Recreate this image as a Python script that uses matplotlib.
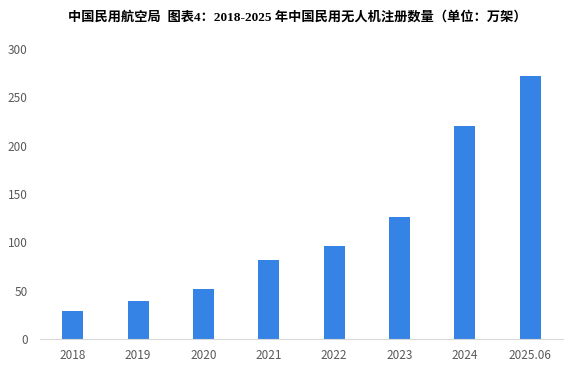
import matplotlib
matplotlib.use("Agg")
import matplotlib.pyplot as plt

plt.rcParams['font.family'] = ['Noto Sans CJK SC', 'DejaVu Sans']

years = ['2018', '2019', '2020', '2021', '2022', '2023', '2024', '2025.06']
counts = [28.7, 39.2, 51.7, 82.0, 95.8, 126.5, 220.5, 272.0]
yticks = [0, 50, 100, 150, 200, 250, 300]
title = '中国民用航空局  图表4：2018-2025 年中国民用无人机注册数量（单位：万架）'

fig = plt.figure(figsize=(5.74, 3.66), dpi=100)
ax = fig.add_axes([40/574, 27/366, 523/574, 290/366])

x = range(len(years))
ax.bar(x, counts, width=0.32, color='#3683e6')
ax.set_xlim(-0.5, len(years) - 0.5)
ax.set_ylim(0, 300)
ax.set_xticks(list(x))
ax.set_xticklabels(years)
ax.set_yticks(yticks)

for s in ['top', 'right', 'left']:
    ax.spines[s].set_visible(False)
ax.spines['bottom'].set_color('#d9d9d9')
ax.tick_params(axis='both', length=0, labelsize=8.5, colors='#595959')
ax.tick_params(axis='x', pad=7)
ax.tick_params(axis='y', pad=9)

# serif latin digits like the source, CJK falls back to Noto
fig.text(297/574, 1 - 17/366, title, ha='center', va='center',
         fontsize=9.5, fontweight='bold', color='#000000',
         family=['Liberation Serif', 'Noto Sans CJK SC'])

fig.savefig('out.png', dpi=100)
